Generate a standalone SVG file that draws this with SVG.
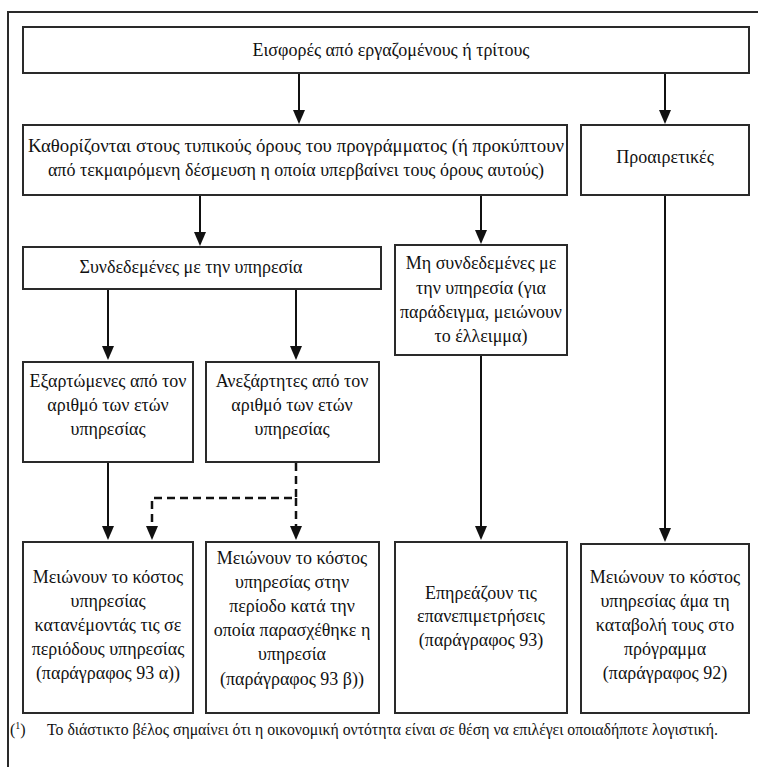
<svg xmlns="http://www.w3.org/2000/svg" width="758" height="767" viewBox="0 0 758 767">
  <style>
    .box { fill: #ffffff; stroke: #2a2a2a; stroke-width: 2; }
    .frame { fill: none; stroke: #2a2a2a; stroke-width: 2; }
    .t { font-family: "Liberation Serif", "DejaVu Serif", serif; font-size: 18px; fill: #111111; text-anchor: middle; dominant-baseline: central; }
    .fn { font-family: "Liberation Serif", "DejaVu Serif", serif; font-size: 16px; fill: #111111; }
    .line { stroke: #111111; stroke-width: 2; fill: none; marker-end: url(#arrow); }
    .dash { stroke: #111111; stroke-width: 2.5; fill: none; stroke-dasharray: 8 5; }
    .dash-end { marker-end: url(#arrow); }
  </style>
  <defs>
    <!-- filled arrowhead; the line ends 8px before the tip, under the triangle -->
    <marker id="arrow" viewBox="0 0 14 12" refX="6" refY="6" markerWidth="14" markerHeight="12" markerUnits="userSpaceOnUse" orient="auto">
      <path d="M0,0 L14,6 L0,12 Z" fill="#111111" stroke="none"/>
    </marker>
  </defs>

  <rect width="758" height="767" fill="#ffffff"/>

  <!-- outer frame: top edge and left edge -->
  <path class="frame" d="M8,767 L8,12 L758,12"/>

  <!-- connectors (endpoints sit 8px above each arrow tip) -->
  <g id="connectors">
    <path class="line" d="M299,74 L299,116"/>
    <path class="line" d="M665,74 L665,116"/>

    <path class="line" d="M200,196 L200,238"/>
    <path class="line" d="M481,196 L481,236"/>
    <path class="line" d="M665,196 L665,534"/>

    <path class="line" d="M108,290 L108,352"/>
    <path class="line" d="M296,290 L296,352"/>

    <path class="line" d="M481,356 L481,532"/>
    <path class="line" d="M108,463 L108,532"/>

    <path class="dash dash-end" d="M296,463 L296,498 L152,498 L152,532"/>
    <path class="dash dash-end" d="M296,498 L296,532"/>
  </g>

  <g id="n-contributions">
    <rect class="box" x="23" y="27" width="726" height="46"/>
    <text class="t" x="391" y="50">Εισφορές από εργαζομένους ή τρίτους</text>
  </g>

  <g id="n-formal-terms">
    <rect class="box" x="23" y="125" width="544" height="70"/>
    <text class="t" x="296" y="146" textLength="536" lengthAdjust="spacingAndGlyphs">Καθορίζονται στους τυπικούς όρους του προγράμματος (ή προκύπτουν</text>
    <text class="t" x="296" y="170">από τεκμαιρόμενη δέσμευση η οποία υπερβαίνει τους όρους αυτούς)</text>
  </g>

  <g id="n-discretionary">
    <rect class="box" x="581" y="125" width="168" height="70"/>
    <text class="t" x="665" y="157">Προαιρετικές</text>
  </g>

  <g id="n-linked">
    <rect class="box" x="23" y="247" width="358" height="42"/>
    <text class="t" x="191" y="267">Συνδεδεμένες με την υπηρεσία</text>
  </g>

  <g id="n-not-linked">
    <rect class="box" x="395" y="245" width="172" height="110"/>
    <text class="t" x="481" y="263">Μη συνδεδεμένες με</text>
    <text class="t" x="481" y="288">την υπηρεσία (για</text>
    <text class="t" x="481" y="312">παράδειγμα, μειώνουν</text>
    <text class="t" x="481" y="336">το έλλειμμα)</text>
  </g>

  <g id="n-dependent">
    <rect class="box" x="23" y="362" width="170" height="100"/>
    <text class="t" x="108" y="381">Εξαρτώμενες από τον</text>
    <text class="t" x="108" y="405">αριθμό των ετών</text>
    <text class="t" x="108" y="429">υπηρεσίας</text>
  </g>

  <g id="n-independent">
    <rect class="box" x="206" y="362" width="173" height="100"/>
    <text class="t" x="292" y="381">Ανεξάρτητες από τον</text>
    <text class="t" x="292" y="405">αριθμό των ετών</text>
    <text class="t" x="292" y="429">υπηρεσίας</text>
  </g>

  <g id="n-attribute-periods">
    <rect class="box" x="23" y="542" width="170" height="171"/>
    <text class="t" x="108" y="577">Μειώνουν το κόστος</text>
    <text class="t" x="108" y="601">υπηρεσίας</text>
    <text class="t" x="108" y="625">κατανέμοντάς τις σε</text>
    <text class="t" x="108" y="649">περιόδους υπηρεσίας</text>
    <text class="t" x="108" y="673">(παράγραφος 93 α))</text>
  </g>

  <g id="n-period-rendered">
    <rect class="box" x="206" y="542" width="173" height="171"/>
    <text class="t" x="292" y="558">Μειώνουν το κόστος</text>
    <text class="t" x="292" y="582">υπηρεσίας στην</text>
    <text class="t" x="292" y="606">περίοδο κατά την</text>
    <text class="t" x="292" y="630">οποία παρασχέθηκε η</text>
    <text class="t" x="292" y="654">υπηρεσία</text>
    <text class="t" x="292" y="679">(παράγραφος 93 β))</text>
  </g>

  <g id="n-remeasurements">
    <rect class="box" x="395" y="542" width="172" height="171"/>
    <text class="t" x="481" y="593">Επηρεάζουν τις</text>
    <text class="t" x="481" y="616">επανεπιμετρήσεις</text>
    <text class="t" x="481" y="640">(παράγραφος 93)</text>
  </g>

  <g id="n-paid">
    <rect class="box" x="581" y="544" width="168" height="169"/>
    <text class="t" x="665" y="577">Μειώνουν το κόστος</text>
    <text class="t" x="665" y="601">υπηρεσίας άμα τη</text>
    <text class="t" x="665" y="625">καταβολή τους στο</text>
    <text class="t" x="665" y="649">πρόγραμμα</text>
    <text class="t" x="665" y="673">(παράγραφος 92)</text>
  </g>

  <g id="footnote">
    <text class="fn" x="10" y="735">(<tspan font-size="10" dy="-6">1</tspan><tspan dy="6">)</tspan></text>
    <text class="fn" x="47" y="735" textLength="671" lengthAdjust="spacingAndGlyphs">Το διάστικτο βέλος σημαίνει ότι η οικονομική οντότητα είναι σε θέση να επιλέγει οποιαδήποτε λογιστική.</text>
  </g>
</svg>
